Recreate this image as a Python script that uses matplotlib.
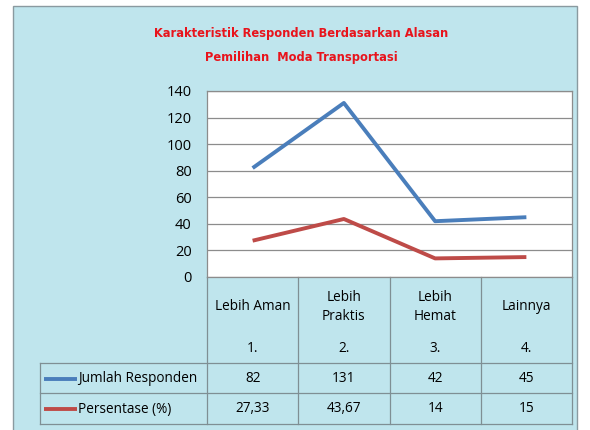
import matplotlib
matplotlib.use("Agg")
import matplotlib.pyplot as plt
from matplotlib.patches import Rectangle
from matplotlib.lines import Line2D

# data
kategori = ["Lebih Aman", "Lebih\nPraktis", "Lebih\nHemat", "Lainnya"]
nomor = ["1.", "2.", "3.", "4."]
jumlah = [82, 131, 42, 45]
persen = [27.33, 43.67, 14, 15]
persen_lbl = ["27,33", "43,67", "14", "15"]
seri = ["Jumlah Responden", "Persentase (%)"]
warna = ["#4a7ebb", "#be4b48"]

W, H = 590, 430
fig = plt.figure(figsize=(W / 100, H / 100), dpi=100)
fig.patch.set_facecolor("white")

# background panel (water texture approximated with flat cyan)
fig.patches.append(Rectangle((13 / W, -0.01), 564 / W, 1 - 6 / H + 0.01,
                             transform=fig.transFigure, facecolor="#bfe5ed",
                             edgecolor="#8a9aa0", lw=1.0, zorder=-5))

tfont = dict(ha="center", va="center", color="#e8141c", fontsize=9.2,
             fontweight="bold", family="DejaVu Sans", fontstretch="condensed")
fig.text(0.51, 1 - 34 / H, "Karakteristik Responden Berdasarkan Alasan", **tfont)
fig.text(0.51, 1 - 57 / H, "Pemilihan  Moda Transportasi", **tfont)

x0, x1, ytop, ybot = 207, 572, 91, 277
ax = fig.add_axes([x0 / W, 1 - ybot / H, (x1 - x0) / W, (ybot - ytop) / H])
ax.set_zorder(2)
ax.set_facecolor("white")
x = list(range(len(kategori)))
ax.plot(x, jumlah, color=warna[0], lw=2.8, solid_capstyle="butt", zorder=3)
ax.plot(x, persen, color=warna[1], lw=2.8, solid_capstyle="butt", zorder=3)
ax.set_xlim(-0.5, len(kategori) - 0.5)
ax.set_ylim(0, 140)
ax.set_yticks(range(0, 141, 20))
ax.set_xticks([])
ax.grid(axis="y", color="#8c8c8c", lw=0.9)
ax.set_axisbelow(True)
for s in ax.spines.values():
    s.set_color("#8c8c8c")
    s.set_linewidth(0.9)
ax.tick_params(axis="y", length=0, pad=11, labelsize=10.5)
for lab in ax.get_yticklabels():
    lab.set_family(["Open Sans", "DejaVu Sans"])

# data table below plot
tr = ax.get_xaxis_transform()
ph = ybot - ytop
cw = (x1 - x0) / len(kategori)


def fy(p):
    return (ybot - p) / ph


fnt = dict(family=["Open Sans", "DejaVu Sans"], fontsize=9.8, color="black")
gc = "#7f8f94"
row1, row2, row3 = 363, 393, 424
left = -0.5 - 167 / cw
for i in range(len(kategori) + 1):
    ax.add_line(Line2D([i - 0.5, i - 0.5], [fy(ybot), fy(row3)], transform=tr,
                       color=gc, lw=0.9, clip_on=False))
for r in (row1, row2, row3):
    ax.add_line(Line2D([left, len(kategori) - 0.5], [fy(r), fy(r)],
                       transform=tr, color=gc, lw=0.9, clip_on=False))
ax.add_line(Line2D([left, left], [fy(row1), fy(row3)], transform=tr,
                   color=gc, lw=0.9, clip_on=False))

for i in x:
    ax.text(i, fy(307), kategori[i], transform=tr, ha="center", va="center",
            linespacing=1.45, **fnt)
    ax.text(i, fy(349), nomor[i], transform=tr, ha="center", va="center", **fnt)
    ax.text(i, fy(379), str(jumlah[i]), transform=tr, ha="center", va="center", **fnt)
    ax.text(i, fy(409), persen_lbl[i], transform=tr, ha="center", va="center", **fnt)

for k, yc in enumerate((379, 409)):
    ax.add_line(Line2D([left + 4 / cw, left + 37 / cw], [fy(yc), fy(yc)],
                       transform=tr, color=warna[k], lw=2.8, clip_on=False,
                       solid_capstyle="butt"))
    ax.text(left + 38 / cw, fy(yc), seri[k], transform=tr, ha="left",
            va="center", **fnt)

fig.savefig("out.png", dpi=100)
